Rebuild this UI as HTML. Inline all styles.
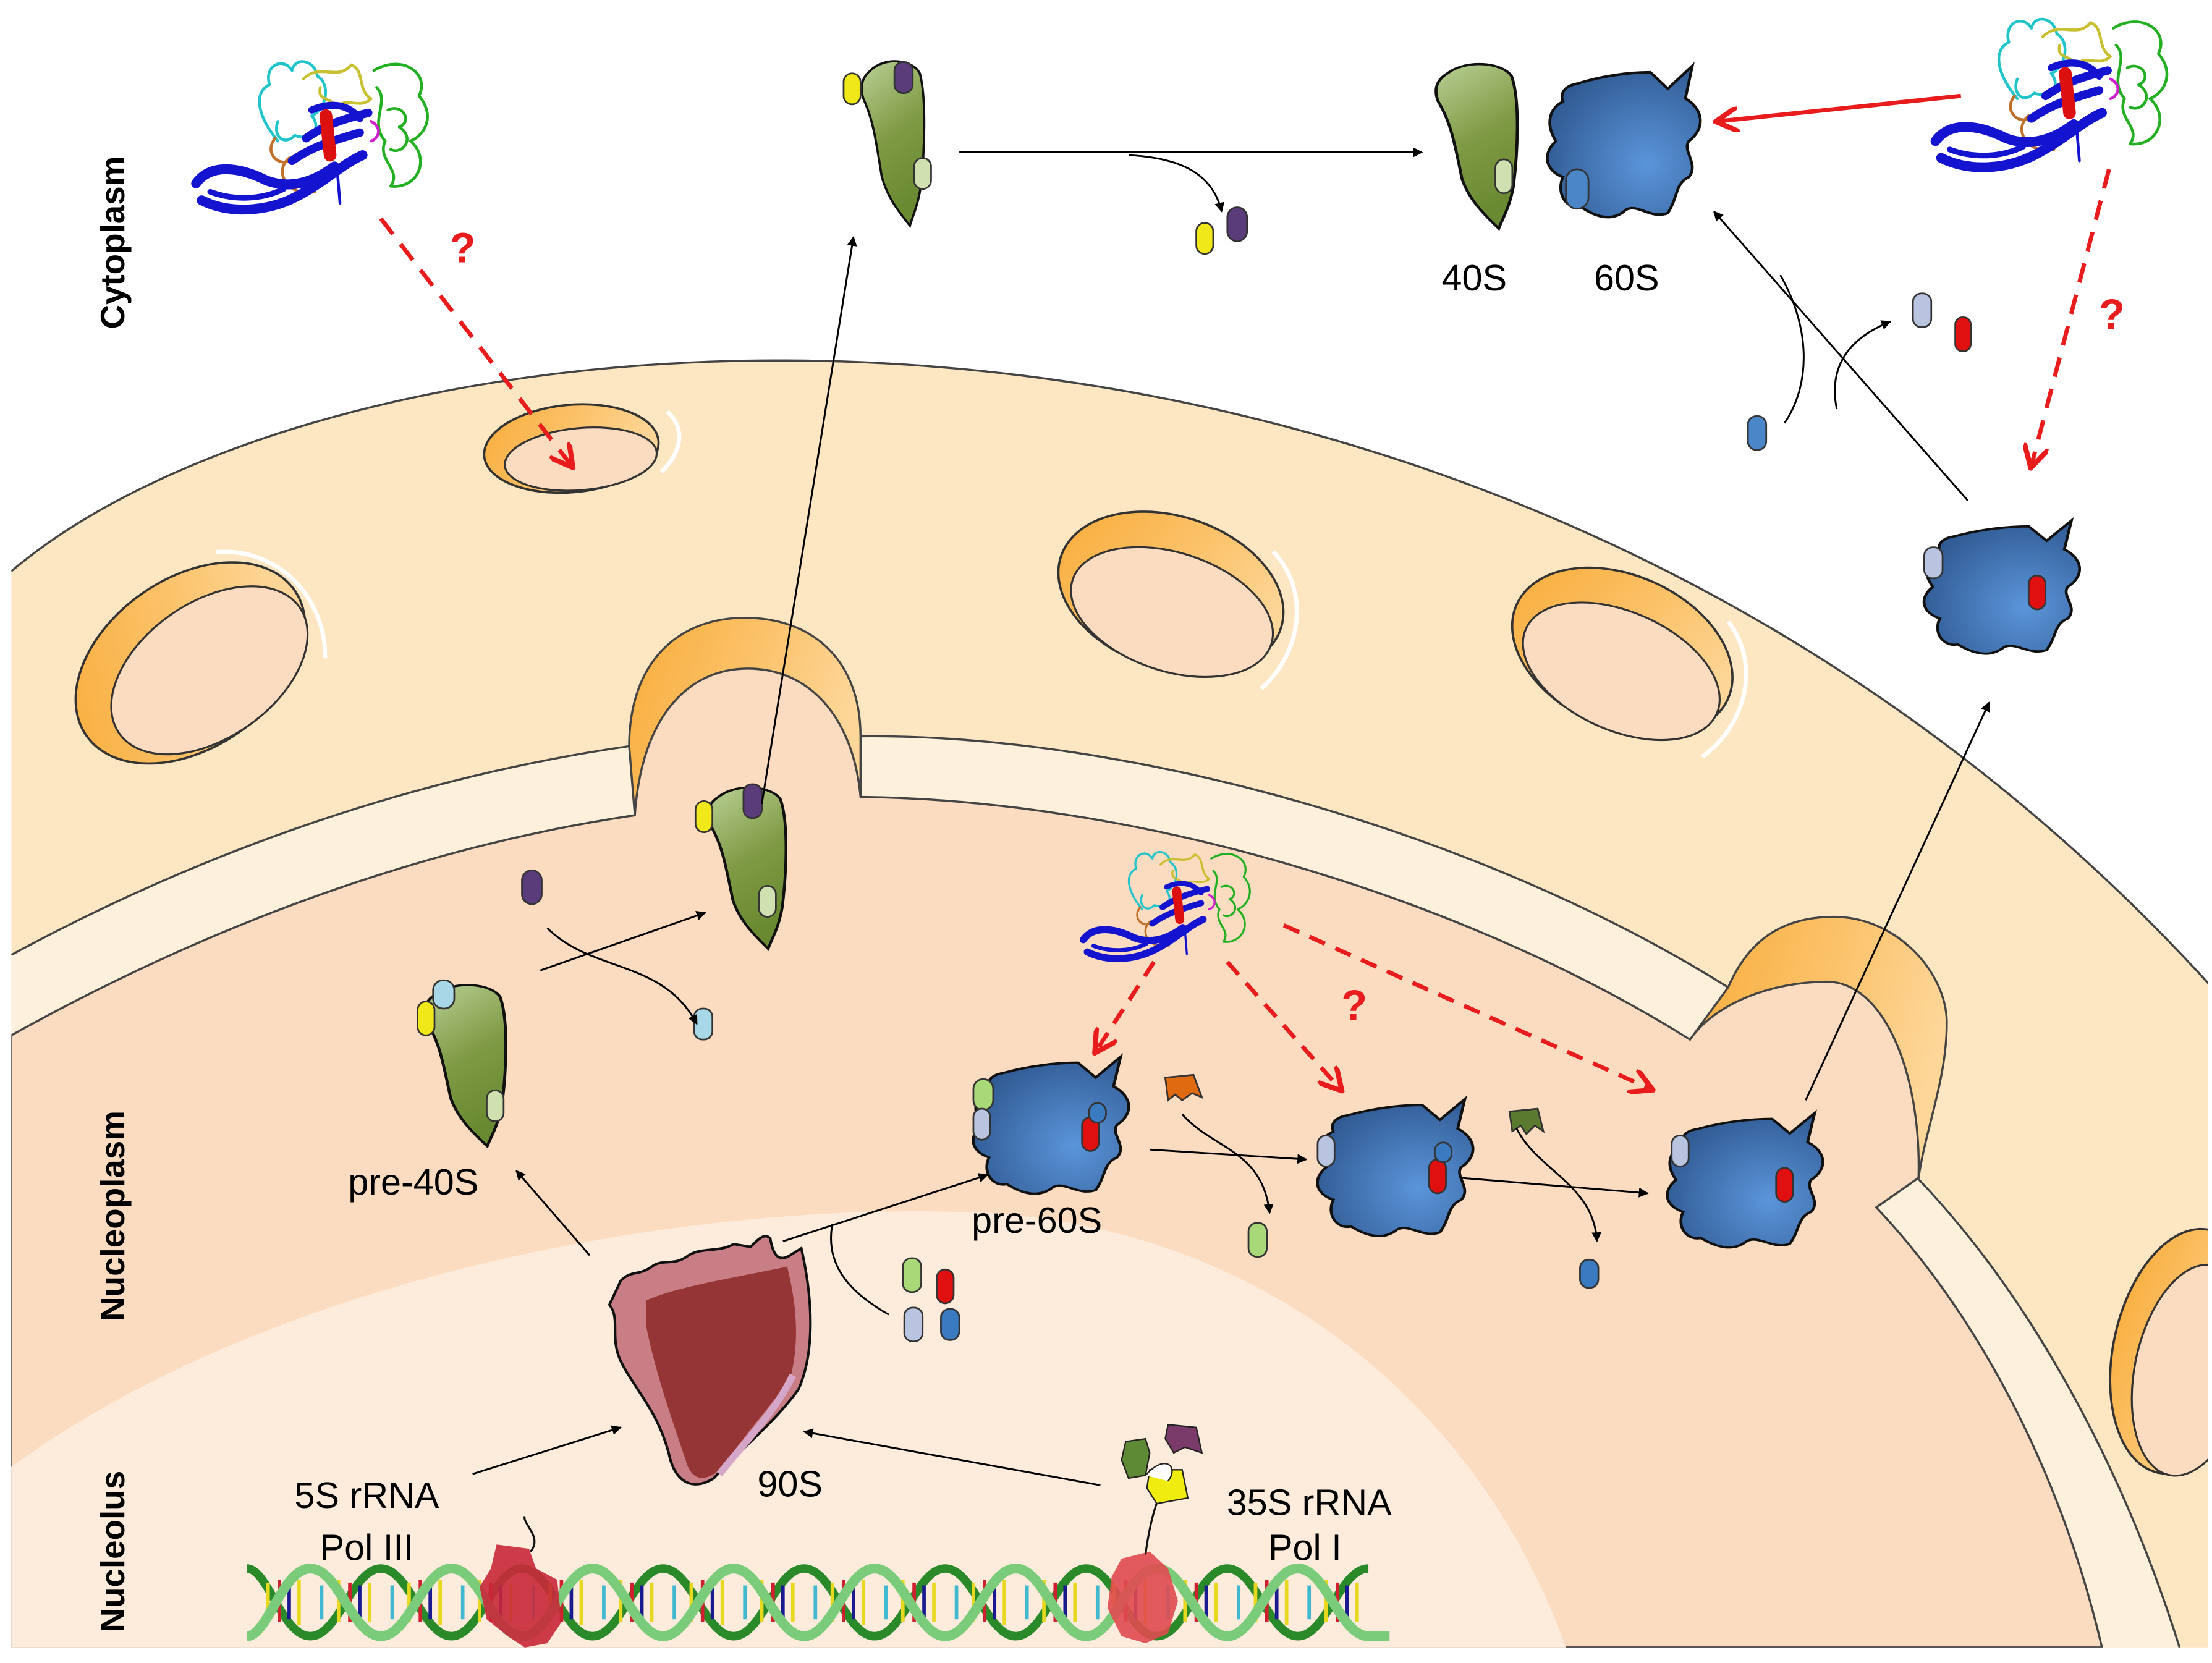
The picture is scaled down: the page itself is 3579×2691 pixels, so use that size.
<!DOCTYPE html>
<html><head><meta charset="utf-8">
<style>
html,body{margin:0;padding:0;background:#fff;}
svg{display:block;}
text{font-family:"Liberation Sans",sans-serif;}
</style></head>
<body>
<svg width="3579" height="2691" viewBox="0 0 1568 1179" preserveAspectRatio="none" xmlns="http://www.w3.org/2000/svg">
<defs>
  <linearGradient id="g40" x1="0" y1="0" x2="0.3" y2="1">
    <stop offset="0" stop-color="#b9d095"/><stop offset="0.55" stop-color="#7f9a44"/><stop offset="1" stop-color="#6a8a32"/>
  </linearGradient>
  <radialGradient id="g60" cx="0.65" cy="0.65" r="0.8">
    <stop offset="0" stop-color="#5b95da"/><stop offset="1" stop-color="#2a5289"/>
  </radialGradient>
  <linearGradient id="rim" x1="0" y1="0" x2="1" y2="0.3">
    <stop offset="0" stop-color="#f8ac3a"/><stop offset="0.6" stop-color="#fcc46e"/><stop offset="1" stop-color="#fdd698"/>
  </linearGradient>
  <marker id="ab" viewBox="0 0 10 10" refX="9" refY="5" markerWidth="7" markerHeight="7" orient="auto-start-reverse" markerUnits="userSpaceOnUse">
    <path d="M0,0 L10,5 L0,10 Z" fill="#000"/>
  </marker>
  <marker id="ar" viewBox="0 0 10 10" refX="8" refY="5" markerWidth="18" markerHeight="18" orient="auto" markerUnits="userSpaceOnUse">
    <path d="M0,0 L9,5 L0,10" fill="none" stroke="#e81c1c" stroke-width="2"/>
  </marker>
  <g id="s40">
    <path d="M10,10 C20,0 40,2 45,12 C50,30 48,70 46,90 C44,105 40,113 38,120 C30,110 22,100 18,85 C14,60 12,45 5,30 C2,20 5,14 10,10 Z" fill="url(#g40)" stroke="#111" stroke-width="1.6"/>
  </g>
  <g id="s60">
    <path d="M20,15 C35,10 50,8 62,8 L72,18 L86,4 L82,24 C92,30 94,42 84,50 C80,56 90,64 84,72 C76,76 78,84 72,94 C62,98 55,88 48,92 C40,100 30,96 22,90 C14,92 8,82 12,72 C2,68 0,58 8,50 C2,40 4,30 12,26 C10,20 14,16 20,15 Z" fill="url(#g60)" stroke="#111" stroke-width="1.6"/>
  </g>
  <g id="prot" fill="none" stroke-linecap="round" stroke-linejoin="round">
    <path d="M62,62 C48,45 44,28 56,22 C52,8 66,2 72,12 C74,2 88,4 90,16 C100,22 96,40 86,44 C94,54 84,62 74,58 C66,66 58,58 62,48" stroke="#22c4cc" stroke-width="2"/>
    <path d="M80,18 C92,6 104,20 114,8 C124,12 118,26 128,32 C120,40 110,30 104,38 C98,30 90,34 92,24" stroke="#c8c030" stroke-width="2"/>
    <path d="M130,12 C150,0 170,14 162,30 C174,44 166,58 156,62 C170,74 162,96 142,94 C150,82 132,76 138,62 C126,48 142,34 132,24 M140,40 C150,35 158,48 148,52 C160,60 150,72 142,68" stroke="#22b022" stroke-width="2"/>
    <path d="M70,74 C58,84 70,102 88,98 M60,60 C52,70 62,80 70,76" stroke="#c07028" stroke-width="2"/>
    <path d="M128,48 C136,52 134,60 128,62" stroke="#d020d0" stroke-width="2"/>
    <path d="M4,92 C14,78 34,80 54,90 C70,96 86,92 102,80" stroke="#1414d0" stroke-width="7"/>
    <path d="M8,104 C28,114 54,112 74,102 C94,92 108,78 122,72" stroke="#1414d0" stroke-width="7"/>
    <path d="M14,98 C30,104 50,104 66,96" stroke="#1414d0" stroke-width="4"/>
    <path d="M72,76 C86,66 100,62 120,56" stroke="#1414d0" stroke-width="6"/>
    <path d="M82,60 C96,50 110,46 126,42" stroke="#1414d0" stroke-width="6"/>
    <path d="M86,40 C100,34 112,36 120,46" stroke="#1414d0" stroke-width="5"/>
    <path d="M104,82 L106,106" stroke="#1414d0" stroke-width="2"/>
    <path d="M96,44 L99,72" stroke="#dd1010" stroke-width="9"/>
  </g>
</defs>

<!-- tan envelope -->
<path d="M8,405 C250,200 1050,130 1568,700 L1568,1168 L8,1168 Z" fill="#fde6c2"/>
<path d="M8,677 C150,600 300,550 446,529 L610,522 C800,520 1050,590 1225,700 L1362,836 C1440,920 1505,1040 1545,1168 L8,1168 Z" fill="#fef1dc"/>
<path d="M446,529 C446,470 480,438 528,438 C578,438 610,470 610,522 L610,565 L450,578 Z" fill="url(#rim)" stroke="#444" stroke-width="1.5"/>
<path d="M1225,700 C1240,665 1265,650 1300,650 C1345,650 1380,690 1380,725 C1380,765 1365,800 1360,835 L1330,856 L1198,737 Z" fill="url(#rim)" stroke="#444" stroke-width="1.5"/>
<path d="M8,734 C150,655 300,600 450,578 C455,505 490,474 530,474 C575,474 605,510 610,565 C800,567 1030,632 1198,737 C1215,712 1255,696 1295,696 C1335,696 1362,760 1360,835 L1330,856 C1400,930 1460,1040 1490,1168 L8,1168 Z" fill="#fcdcc0" stroke="#444" stroke-width="1.5"/>
<path d="M8,677 C150,600 300,550 446,529" fill="none" stroke="#444" stroke-width="1.5"/>
<path d="M610,522 C800,520 1050,590 1225,700" fill="none" stroke="#444" stroke-width="1.5"/>
<path d="M1360,836 C1440,920 1505,1040 1545,1168" fill="none" stroke="#444" stroke-width="1.5"/>
<path d="M8,405 C250,200 1050,130 1568,700" fill="none" stroke="#444" stroke-width="1.5"/>
<path d="M8,1040 C200,900 500,850 700,860 C900,872 1050,1000 1110,1168 L8,1168 Z" fill="#fdebdc"/>

<!-- pores -->
<g transform="translate(405,318) rotate(-5)">
  <ellipse cx="0" cy="0" rx="62" ry="31" fill="url(#rim)" stroke="#333" stroke-width="1.6"/>
  <ellipse cx="6" cy="8" rx="54" ry="22" fill="#fcdcc0" stroke="#333" stroke-width="1.4"/>
  <path d="M70,-20 C82,-8 78,10 62,22" stroke="#fff" stroke-width="3" fill="none"/>
</g>
<g transform="translate(135,470) rotate(-35)">
  <ellipse cx="0" cy="0" rx="90" ry="60" fill="url(#rim)" stroke="#333" stroke-width="1.6"/>
  <ellipse cx="8" cy="12" rx="78" ry="48" fill="#fcdcc0" stroke="#333" stroke-width="1.4"/>
  <path d="M60,-54 C100,-30 104,20 80,52" stroke="#fff" stroke-width="3" fill="none"/>
</g>
<g transform="translate(830,420) rotate(18)">
  <ellipse cx="0" cy="0" rx="82" ry="54" fill="url(#rim)" stroke="#333" stroke-width="1.6"/>
  <ellipse cx="5" cy="13" rx="74" ry="42" fill="#fcdcc0" stroke="#333" stroke-width="1.4"/>
  <path d="M60,-50 C96,-30 100,15 82,45" stroke="#fff" stroke-width="3" fill="none"/>
</g>
<g transform="translate(1150,462) rotate(24)">
  <ellipse cx="0" cy="0" rx="82" ry="54" fill="url(#rim)" stroke="#333" stroke-width="1.6"/>
  <ellipse cx="5" cy="13" rx="74" ry="42" fill="#fcdcc0" stroke="#333" stroke-width="1.4"/>
  <path d="M60,-50 C96,-30 100,15 82,45" stroke="#fff" stroke-width="3" fill="none"/>
</g>
<g transform="translate(1548,958) rotate(12)">
  <ellipse cx="0" cy="0" rx="50" ry="88" fill="url(#rim)" stroke="#333" stroke-width="1.6"/>
  <ellipse cx="8" cy="12" rx="40" ry="76" fill="#fcdcc0" stroke="#333" stroke-width="1.4"/>
</g>
<rect x="1565" y="0" width="4" height="1179" fill="#fff"/>
<rect x="0" y="1168" width="1568" height="11" fill="#fff"/>
<rect x="0" y="0" width="8" height="1179" fill="#fff"/>

<!-- DNA -->
<g>
  <path d="M175,1112 C190,1112 200,1160 220,1160 C240,1160 250,1112 270,1112 C290,1112 300,1160 320,1160 C340,1160 350,1112 370,1112 C390,1112 400,1160 420,1160 C440,1160 450,1112 470,1112 C490,1112 500,1160 520,1160 C540,1160 550,1112 570,1112 C590,1112 600,1160 620,1160 C640,1160 650,1112 670,1112 C690,1112 700,1160 720,1160 C740,1160 750,1112 770,1112 C790,1112 800,1160 820,1160 C840,1160 850,1112 870,1112 C890,1112 900,1160 920,1160 C940,1160 950,1112 970,1112" fill="none" stroke="#2a8a2a" stroke-width="6"/>
  <g stroke-width="2.5">
    <path d="M190,1122 V1150 M212,1120 V1152 M240,1120 V1150 M262,1122 V1150 M290,1122 V1150 M312,1120 V1152 M340,1120 V1150 M362,1122 V1150 M390,1122 V1150 M412,1120 V1152 M440,1120 V1150 M462,1122 V1150 M490,1122 V1150 M512,1120 V1152 M540,1120 V1150 M562,1122 V1150 M590,1122 V1150 M612,1120 V1152 M640,1120 V1150 M662,1122 V1150 M690,1122 V1150 M712,1120 V1152 M740,1120 V1150 M762,1122 V1150 M790,1122 V1150 M812,1120 V1152 M840,1120 V1150 M862,1122 V1150 M890,1122 V1150 M912,1120 V1152 M940,1120 V1150 M962,1122 V1150" stroke="#e8d820"/>
    <path d="M198,1120 V1150 M248,1122 V1150 M298,1120 V1150 M348,1122 V1150 M398,1120 V1150 M448,1122 V1150 M498,1120 V1150 M548,1122 V1150 M598,1120 V1150 M648,1122 V1150 M698,1120 V1150 M748,1122 V1150 M798,1120 V1150 M848,1122 V1150 M898,1120 V1150 M948,1122 V1150" stroke="#d02030"/>
    <path d="M205,1124 V1148 M255,1124 V1148 M305,1124 V1148 M355,1124 V1148 M405,1124 V1148 M455,1124 V1148 M505,1124 V1148 M555,1124 V1148 M605,1124 V1148 M655,1124 V1148 M705,1124 V1148 M755,1124 V1148 M805,1124 V1148 M855,1124 V1148 M905,1124 V1148 M955,1124 V1148" stroke="#1a1a90"/>
    <path d="M228,1124 V1148 M278,1124 V1148 M328,1124 V1148 M378,1124 V1148 M428,1124 V1148 M478,1124 V1148 M528,1124 V1148 M578,1124 V1148 M628,1124 V1148 M678,1124 V1148 M728,1124 V1148 M778,1124 V1148 M828,1124 V1148 M878,1124 V1148 M928,1124 V1148" stroke="#40b8d0"/>
  </g>
  <path d="M175,1160 C190,1160 200,1112 220,1112 C240,1112 250,1160 270,1160 C290,1160 300,1112 320,1112 C340,1112 350,1160 370,1160 C390,1160 400,1112 420,1112 C440,1112 450,1160 470,1160 C490,1160 500,1112 520,1112 C540,1112 550,1160 570,1160 C590,1160 600,1112 620,1112 C640,1112 650,1160 670,1160 C690,1160 700,1112 720,1112 C740,1112 750,1160 770,1160 C790,1160 800,1112 820,1112 C840,1112 850,1160 870,1160 C890,1160 900,1112 920,1112 C940,1112 950,1160 970,1160 L985,1160" fill="none" stroke="#7acc7a" stroke-width="7"/>
</g>
<path d="M352,1095 L375,1098 L380,1112 L395,1120 L398,1150 L388,1165 L372,1168 L360,1160 L345,1148 L340,1125 L348,1112 Z" fill="#c82838" opacity="0.9"/>
<path d="M376,1100 C385,1090 370,1080 372,1075" fill="none" stroke="#111" stroke-width="1.4"/>
<path d="M795,1105 L815,1100 L828,1112 L835,1135 L828,1158 L812,1165 L795,1160 L785,1140 L788,1118 Z" fill="#e04a50" opacity="0.9"/>
<path d="M812,1102 C815,1080 820,1060 828,1050" fill="none" stroke="#111" stroke-width="1.4"/>
<path d="M798,1022 L812,1020 L815,1030 L812,1046 L800,1048 L795,1035 Z" fill="#5f8a35" stroke="#222" stroke-width="1"/>
<path d="M828,1010 L848,1012 L852,1030 L840,1026 L832,1030 L826,1020 Z" fill="#7a3a6a" stroke="#222" stroke-width="1"/>
<path d="M815,1042 L838,1042 L842,1062 L820,1066 L813,1055 Z" fill="#f0ec10" stroke="#222" stroke-width="1"/>
<path d="M812,1046 C826,1030 836,1040 828,1050" fill="#fff" stroke="#222" stroke-width="1"/>

<!-- 90S -->
<path d="M440,908 C448,900 452,905 462,898 C470,892 478,898 488,890 C498,884 510,888 520,882 L532,884 C538,878 542,874 546,878 C548,890 552,895 560,890 L568,885 C576,920 578,958 566,985 C548,1010 522,1030 506,1048 C490,1058 478,1050 474,1030 C466,1000 450,985 440,965 C432,948 440,935 432,925 Z" fill="#c97e86" stroke="#111" stroke-width="1.8"/>
<path d="M458,922 C480,912 520,906 558,898 C566,930 566,955 560,978 C545,998 530,1015 512,1040 C500,1052 490,1050 486,1035 C474,1000 464,970 458,940 Z" fill="#953535"/>
<path d="M562,975 C550,1000 530,1020 510,1045" fill="none" stroke="#d6a6c8" stroke-width="5"/>

<use href="#s40" transform="translate(607,40)"/>
<use href="#s40" transform="translate(1013,42) scale(1.3,1)"/>
<use href="#s40" transform="translate(497,555) scale(1.25,0.98)"/>
<use href="#s40" transform="translate(296,695) scale(1.3,0.98)"/>
<use href="#s60" transform="translate(1093,42) scale(1.24,1.16)"/>
<use href="#s60" transform="translate(1360,365) scale(1.26,1.02)"/>
<use href="#s60" transform="translate(686,745) scale(1.26,1.05)"/>
<use href="#s60" transform="translate(930,775) scale(1.26,1.05)"/>
<use href="#s60" transform="translate(1178,785) scale(1.26,1.03)"/>

<g stroke="#333" stroke-width="1.2">
  <rect x="598" y="52" width="12" height="22" rx="6" fill="#f0e818"/>
  <rect x="634" y="44" width="13" height="22" rx="6" fill="#5a3c7a"/>
  <rect x="648" y="112" width="12" height="22" rx="6" fill="#d0e0b0"/>
  <rect x="848" y="158" width="12" height="22" rx="6" fill="#f0e818"/>
  <rect x="870" y="147" width="14" height="24" rx="7" fill="#5a3c7a"/>
  <rect x="1060" y="113" width="12" height="24" rx="6" fill="#d0e0b0"/>
  <rect x="1110" y="120" width="16" height="28" rx="8" fill="#4a86c8"/>
  <rect x="1356" y="208" width="13" height="24" rx="6" fill="#b8c4e0"/>
  <rect x="1386" y="225" width="11" height="24" rx="5" fill="#e01010"/>
  <rect x="1239" y="295" width="13" height="24" rx="6" fill="#4a86c8"/>
  <rect x="1364" y="388" width="13" height="22" rx="6" fill="#b8c4e0"/>
  <rect x="1438" y="408" width="12" height="24" rx="6" fill="#e01010"/>
  <rect x="493" y="568" width="12" height="22" rx="6" fill="#f0e818"/>
  <rect x="527" y="556" width="13" height="24" rx="6" fill="#5a3c7a"/>
  <rect x="538" y="628" width="12" height="22" rx="6" fill="#d0e0b0"/>
  <rect x="370" y="617" width="14" height="24" rx="7" fill="#5a3c7a"/>
  <rect x="492" y="715" width="13" height="22" rx="6" fill="#a8d8e8"/>
  <rect x="307" y="695" width="15" height="20" rx="7" fill="#a8d8e8"/>
  <rect x="296" y="710" width="12" height="24" rx="6" fill="#f0e818"/>
  <rect x="345" y="773" width="12" height="22" rx="6" fill="#d0e0b0"/>
  <rect x="640" y="892" width="13" height="24" rx="6" fill="#a8d878"/>
  <rect x="664" y="900" width="12" height="24" rx="6" fill="#e01010"/>
  <rect x="641" y="927" width="13" height="24" rx="6" fill="#b8c4e0"/>
  <rect x="667" y="928" width="13" height="22" rx="6" fill="#3a7ac0"/>
  <rect x="690" y="765" width="14" height="22" rx="7" fill="#a8d878"/>
  <rect x="690" y="786" width="12" height="22" rx="6" fill="#b8c4e0"/>
  <rect x="767" y="792" width="12" height="24" rx="6" fill="#e01010"/>
  <rect x="772" y="782" width="12" height="14" rx="6" fill="#3a7ac0"/>
  <rect x="885" y="867" width="13" height="24" rx="6" fill="#a8d878"/>
  <rect x="934" y="805" width="12" height="22" rx="6" fill="#b8c4e0"/>
  <rect x="1013" y="822" width="12" height="24" rx="6" fill="#e01010"/>
  <rect x="1017" y="810" width="12" height="14" rx="6" fill="#3a7ac0"/>
  <rect x="1120" y="893" width="13" height="20" rx="6" fill="#3a7ac0"/>
  <rect x="1185" y="805" width="12" height="22" rx="6" fill="#b8c4e0"/>
  <rect x="1259" y="828" width="12" height="24" rx="6" fill="#e01010"/>
  <path d="M826,764 L846,762 L852,778 L845,775 L838,780 L833,776 L828,780 Z" fill="#e06a10"/>
  <path d="M1070,788 L1090,786 L1094,802 L1088,798 L1082,804 L1078,798 L1072,802 Z" fill="#5a7a30"/>
</g>

<use href="#prot" transform="translate(135,38)"/>
<use href="#prot" transform="translate(1368,8)"/>
<use href="#prot" transform="translate(765,600) scale(0.72,0.72)"/>

<g fill="none" stroke="#000" stroke-width="1.3">
  <path d="M540,570 L605,168" marker-end="url(#ab)"/>
  <path d="M680,108 L1008,108" marker-end="url(#ab)"/>
  <path d="M800,110 C840,112 860,125 866,150" marker-end="url(#ab)"/>
  <path d="M1395,355 L1215,150" marker-end="url(#ab)"/>
  <path d="M1265,300 C1285,270 1282,230 1262,195"/>
  <path d="M1302,290 C1296,260 1310,240 1340,228" marker-end="url(#ab)"/>
  <path d="M1280,780 L1410,498" marker-end="url(#ab)"/>
  <path d="M383,688 L500,647" marker-end="url(#ab)"/>
  <path d="M388,658 C420,690 470,680 494,726" marker-end="url(#ab)"/>
  <path d="M418,890 L366,830" marker-end="url(#ab)"/>
  <path d="M555,880 L700,833" marker-end="url(#ab)"/>
  <path d="M630,932 C600,915 585,895 590,868"/>
  <path d="M815,815 L926,822" marker-end="url(#ab)"/>
  <path d="M838,790 C860,815 895,815 900,860" marker-end="url(#ab)"/>
  <path d="M1035,835 L1168,846" marker-end="url(#ab)"/>
  <path d="M1075,800 C1090,830 1130,840 1132,880" marker-end="url(#ab)"/>
  <path d="M335,1045 L440,1012" marker-end="url(#ab)"/>
  <path d="M780,1053 L570,1015" marker-end="url(#ab)"/>
</g>

<g fill="none" stroke="#e81c1c" stroke-width="3">
  <path d="M270,155 L405,330" stroke-dasharray="14,9" marker-end="url(#ar)"/>
  <path d="M1390,68 L1218,86" marker-end="url(#ar)"/>
  <path d="M1495,120 L1440,330" stroke-dasharray="14,9" marker-end="url(#ar)"/>
  <path d="M818,682 L777,745" stroke-dasharray="12,8" marker-end="url(#ar)"/>
  <path d="M870,682 L950,772" stroke-dasharray="12,8" marker-end="url(#ar)"/>
  <path d="M910,656 L1170,772" stroke-dasharray="12,8" marker-end="url(#ar)"/>
</g>
<g fill="#e81c1c" font-weight="bold" font-size="30" text-anchor="middle">
  <text x="328" y="186">?</text>
  <text x="1497" y="233">?</text>
  <text x="960" y="723">?</text>
</g>

<g font-size="26" fill="#000" text-anchor="middle">
  <text x="1045" y="206">40S</text>
  <text x="1153" y="206">60S</text>
  <text x="293" y="847">pre-40S</text>
  <text x="735" y="874">pre-60S</text>
  <text x="560" y="1061">90S</text>
  <text x="260" y="1069">5S rRNA</text>
  <text x="260" y="1106">Pol III</text>
  <text x="928" y="1074">35S rRNA</text>
  <text x="925" y="1106">Pol I</text>
</g>
<g font-size="24" font-weight="bold" fill="#000" text-anchor="middle">
  <text transform="translate(88,172) rotate(-90)">Cytoplasm</text>
  <text transform="translate(88,862) rotate(-90)">Nucleoplasm</text>
  <text transform="translate(88,1100) rotate(-90)">Nucleolus</text>
</g>
</svg>
</body></html>
